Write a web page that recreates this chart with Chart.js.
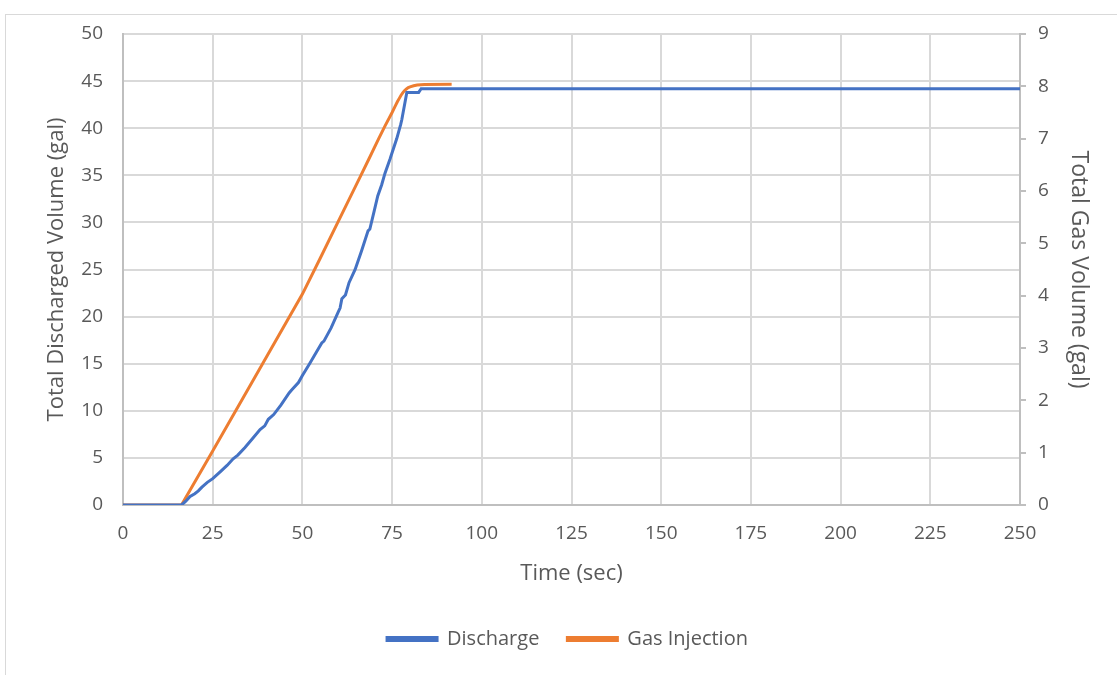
<!DOCTYPE html>
<html>
<head>
<meta charset="utf-8">
<script src="https://cdn.jsdelivr.net/npm/chart.js@4"></script>
<style>
  html, body { margin: 0; padding: 0; background: #fff; }
  #wrap { position: relative; width: 1117px; height: 675px; overflow: hidden; }
  #frame { position: absolute; left: 5px; top: 14px; width: 1200px; height: 800px; border: 1px solid #d9d9d9; box-sizing: border-box; }
  canvas { position: absolute; left: 0; top: 0; }
</style>
</head>
<body>
<div id="wrap">
  <div id="frame"></div>
  <canvas id="c" width="1117" height="675"></canvas>
</div>
<script>
// ---- Data ----
const dischargeTime = [0, 16.3, 17.5, 18.7, 20, 21, 22, 23.5, 25, 27, 29, 30.7, 32, 34, 36, 38.2, 39.5, 40.5, 42, 44, 46.3, 47, 48.9, 50, 52, 54, 55.4, 56, 58, 60, 60.5, 61, 62, 63, 64.7, 66.5, 68.3, 68.8, 70, 71, 72.1, 73, 74.4, 76.3, 77.4, 77.7, 79.1, 82.4, 83.1, 250];
const dischargeVol  = [0, 0, 0.4, 0.9, 1.2, 1.5, 1.9, 2.4, 2.8, 3.5, 4.2, 4.9, 5.3, 6.1, 7.0, 8.0, 8.4, 9.1, 9.6, 10.6, 11.9, 12.2, 13.0, 13.75, 15.0, 16.3, 17.2, 17.4, 18.8, 20.5, 20.9, 21.9, 22.3, 23.6, 25.0, 27.0, 29.1, 29.3, 31.2, 32.8, 34.0, 35.2, 36.7, 38.9, 40.4, 40.9, 43.8, 43.8, 44.2, 44.2];

const gasTime = [0, 16.3, 25, 36, 50, 55, 60, 66.1, 68.8, 71.2, 73, 75, 76, 76.5, 77, 77.5, 78, 78.5, 79, 79.5, 80, 81, 82, 84, 91.6];
const gasVol  = [0, 0, 1.03, 2.35, 4.03, 4.72, 5.42, 6.27, 6.65, 6.99, 7.24, 7.5, 7.64, 7.71, 7.77, 7.83, 7.88, 7.92, 7.95, 7.975, 7.99, 8.01, 8.025, 8.035, 8.04];

const xTicks = [0, 25, 50, 75, 100, 125, 150, 175, 200, 225, 250];
const leftTicks = [0, 5, 10, 15, 20, 25, 30, 35, 40, 45, 50];
const rightTicks = [0, 1, 2, 3, 4, 5, 6, 7, 8, 9];

const seriesNames = ['Discharge', 'Gas Injection'];
const xTitle = 'Time (sec)';
const leftTitle = 'Total Discharged Volume (gal)';
const rightTitle = 'Total Gas Volume (gal)';

// ---- Chart ----
const BLUE = '#4472C4', ORANGE = '#ED7D31', TXT = '#595959', GRID = '#d9d9d9';
const tickFont = { family: "'Open Sans', sans-serif", size: 19 };
const legendFont = { family: "'Open Sans', sans-serif", size: 20 };

const toPts = (xs, ys) => xs.map((x, i) => ({ x: x, y: ys[i] }));

const legendShift = {
  id: 'legendShift',
  afterLayout(chart) {
    const l = chart.legend;
    if (l) { l.left += 9; l.right += 9; l.top -= 2; l.bottom -= 2; }
  }
};

new Chart(document.getElementById('c'), {
  type: 'line',
  data: {
    datasets: [
      { label: seriesNames[0], data: toPts(dischargeTime, dischargeVol), yAxisID: 'y',
        borderColor: BLUE, backgroundColor: BLUE, borderWidth: 3, pointRadius: 0, tension: 0 },
      { label: seriesNames[1], data: toPts(gasTime, gasVol), yAxisID: 'y1',
        borderColor: ORANGE, backgroundColor: ORANGE, borderWidth: 3, pointRadius: 0, tension: 0 }
    ]
  },
  plugins: [legendShift],
  options: {
    responsive: false,
    animation: false,
    layout: { padding: { top: 34, left: 0, right: 0, bottom: 14 } },
    plugins: {
      tooltip: { enabled: false },
      legend: {
        position: 'bottom',
        labels: { color: TXT, font: legendFont, boxWidth: 50, boxHeight: 3, padding: 28 }
      }
    },
    scales: {
      x: {
        type: 'linear', min: 0, max: 250,
        afterBuildTicks: s => { s.ticks = xTicks.map(v => ({ value: v })); },
        ticks: { color: TXT, font: tickFont, padding: 17, maxRotation: 0 },
        grid: { color: GRID, lineWidth: 2, drawTicks: false },
        border: { color: '#bfbfbf', width: 2 },
        title: { display: true, text: xTitle, color: TXT, font: { family: "'Open Sans', sans-serif", size: 22 }, padding: { top: 4, bottom: 16 } },
        afterFit: s => { s.height = 98; }
      },
      y: {
        position: 'left', min: 0, max: 50,
        afterBuildTicks: s => { s.ticks = leftTicks.map(v => ({ value: v })); },
        ticks: { color: TXT, font: tickFont, padding: 20 },
        grid: { color: GRID, lineWidth: 2, drawTicks: false },
        border: { color: '#bfbfbf', width: 2 },
        title: { display: true, text: leftTitle, color: TXT, font: { family: "'Open Sans', sans-serif", size: 22 }, padding: { top: 44, bottom: 0 } },
        afterFit: s => { s.width = 123; }
      },
      y1: {
        position: 'right', min: 0, max: 9,
        afterBuildTicks: s => { s.ticks = rightTicks.map(v => ({ value: v })); },
        ticks: { color: TXT, font: tickFont, padding: 12 },
        grid: { drawOnChartArea: false, drawTicks: true, tickLength: 6, color: '#bfbfbf', lineWidth: 2 },
        border: { color: '#bfbfbf', width: 2 },
        title: { display: true, text: rightTitle, color: TXT, font: { family: "'Open Sans', sans-serif", size: 23 }, padding: { top: 25, bottom: 0 } },
        afterFit: s => { s.width = 97; }
      }
    }
  }
});
</script>
</body>
</html>
